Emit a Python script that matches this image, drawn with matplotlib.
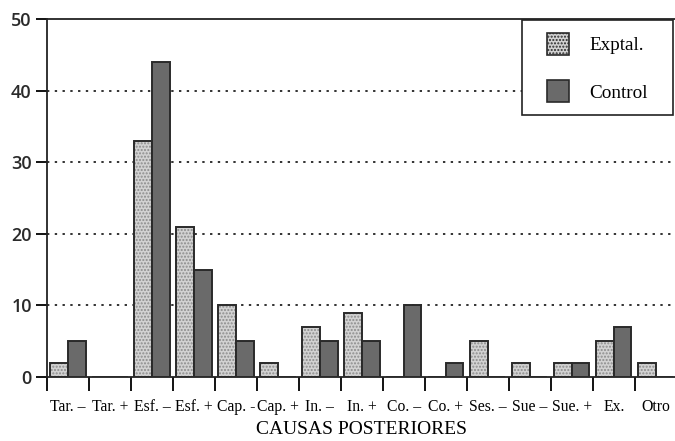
import matplotlib.pyplot as plt
import numpy as np
from matplotlib.legend_handler import HandlerPatch

# Data
categorias = ['Tar. –', 'Tar. +', 'Esf. –', 'Esf. +', 'Cap. -', 'Cap. +',
              'In. –', 'In. +', 'Co. –', 'Co. +', 'Ses. –', 'Sue –',
              'Sue. +', 'Ex.', 'Otro']
exptal = [2, 0, 33, 21, 10, 2, 7, 9, 0, 0, 5, 2, 2, 5, 2]
control = [5, 0, 44, 15, 5, 0, 5, 5, 10, 2, 0, 0, 2, 7, 0]
y_ticks = [0, 10, 20, 30, 40, 50]

serif = 'Liberation Serif'
c_exp = '#d2d2d2'
c_ctl = '#6a6a6a'
c_edge = '#2a2a2a'

fig = plt.figure(figsize=(6.75, 4.41), dpi=100)
ax = fig.add_axes([0.0696, 0.145, 0.933, 0.812])

x = np.arange(len(categorias)) + 0.5
w = 0.42

# Exptal: stippled light grey
ax.bar(x - w / 2, exptal, w, color=c_exp, edgecolor='#8c8c8c',
       hatch='.....', linewidth=0, zorder=2)
ax.bar(x - w / 2, exptal, w, fill=False, edgecolor=c_edge,
       linewidth=1.4, zorder=3)
# Control: dark grey
ax.bar(x + w / 2, control, w, color=c_ctl, edgecolor=c_edge,
       linewidth=1.4, zorder=3)

ax.set_xlim(0, 15)
ax.set_ylim(0, 50)

# Dotted gridlines
for v in y_ticks[1:-1]:
    ax.axhline(v, color='#222222', linestyle=(0, (1.3, 3)), linewidth=1.3, zorder=1)

ax.set_yticks(y_ticks)
ax.set_yticklabels([str(v) for v in y_ticks], fontfamily='Open Sans',
                   fontweight='semibold', fontsize=13, color='#2a2a2a')
ax.tick_params(axis='y', direction='out', length=8, width=1.3, pad=3)

# group boundaries as major ticks, labels at centers as minor ticks
ax.set_xticks(np.arange(0, 15))
ax.set_xticklabels([])
ax.tick_params(axis='x', which='major', direction='out', length=10, width=1.3)
ax.set_xticks(x, minor=True)
ax.set_xticklabels(categorias, minor=True, fontfamily=serif, fontsize=11.3)
ax.tick_params(axis='x', which='minor', length=0, pad=16)

for s in ['left', 'bottom', 'top']:
    ax.spines[s].set_linewidth(1.3)
    ax.spines[s].set_color('#222222')
ax.spines['right'].set_visible(False)

ax.set_xlabel('CAUSAS POSTERIORES', fontfamily=serif, fontsize=14, labelpad=4)


# square legend handles placed on the right part of the handle box
def square(legend, orig_handle, xdescent, ydescent, width, height, fontsize):
    return plt.Rectangle((width - height - xdescent, -ydescent), height, height)


h1 = plt.Rectangle((0, 0), 1, 1, facecolor=c_exp, edgecolor=c_edge,
                   hatch='.....', linewidth=1.2)
h2 = plt.Rectangle((0, 0), 1, 1, facecolor=c_ctl, edgecolor=c_edge,
                   linewidth=1.2)
leg = ax.legend([h1, h2], ['Exptal.', 'Control'], loc='upper left',
                bbox_to_anchor=(0.754, 0.0, 0.240, 0.997), mode='expand',
                prop={'family': serif, 'size': 13.8},
                fancybox=False, framealpha=1, edgecolor='#222222',
                handler_map={plt.Rectangle: HandlerPatch(patch_func=square)},
                handlelength=1.8, handleheight=1.38, labelspacing=1.32,
                borderpad=0.68, handletextpad=1.04, borderaxespad=0)
leg.get_frame().set_linewidth(1.2)

plt.savefig('out.png', dpi=100)
